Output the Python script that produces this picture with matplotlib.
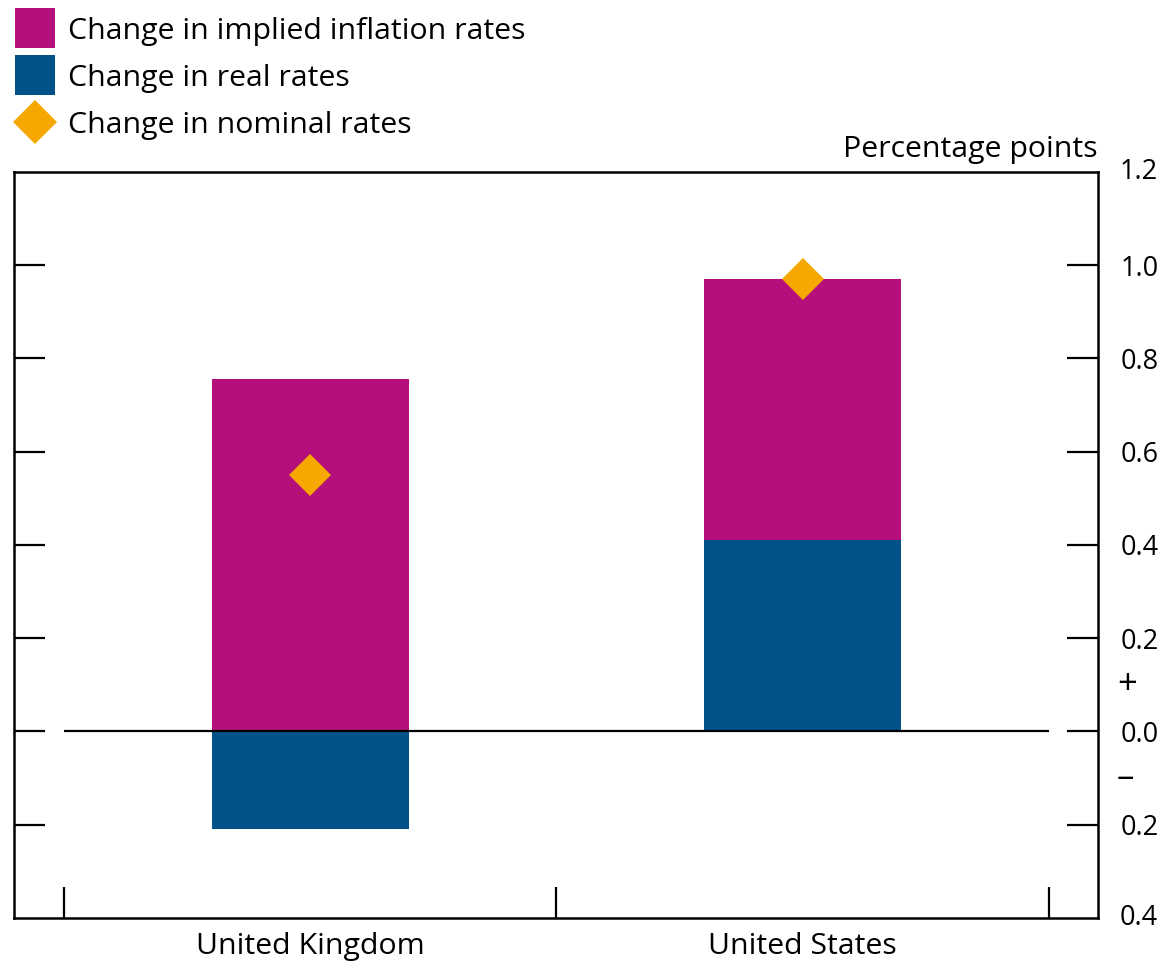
import matplotlib.pyplot as plt
from matplotlib.lines import Line2D
from matplotlib.transforms import blended_transform_factory

plt.rcParams['font.family'] = ['Open Sans', 'DejaVu Sans']

# data (percentage points)
countries = ['United Kingdom', 'United States']
real_rates = [-0.21, 0.41]
inflation_rates = [0.755, 0.56]
nominal_rates = [0.55, 0.97]

yticks = [-0.4, -0.2, 0.0, 0.2, 0.4, 0.6, 0.8, 1.0, 1.2]
ytick_labels = ['0.4', '0.2', '0.0', '0.2', '0.4', '0.6', '0.8', '1.0', '1.2']

magenta = '#B50F7B'
blue = '#005288'
orange = '#F7A800'
fs = 21.8
tfs = 19.5

fig = plt.figure(figsize=(11.67, 9.64), dpi=100)
ax = fig.add_axes([14 / 1167, 1 - 918 / 964, (1098 - 14) / 1167, (918 - 172) / 964])

xpos = [0.5, 1.5]
# inflation stacks on top of real rates where both are positive
bottoms = [max(r, 0) for r in real_rates]
ax.bar(xpos, real_rates, width=0.4, color=blue, zorder=2)
ax.bar(xpos, inflation_rates, width=0.4, bottom=bottoms, color=magenta, zorder=2)
ax.plot(xpos, nominal_rates, linestyle='none', marker='D', markersize=21,
        color=orange, markeredgewidth=0, zorder=4)

ax.hlines(0, 0, 2, color='black', linewidth=1.6, zorder=3)

ax.set_xlim(-0.1015, 2.0995)
ax.set_ylim(-0.4, 1.2)

for s in ax.spines.values():
    s.set_linewidth(1.8)

ax.set_yticks(yticks[1:-1])
ax.set_yticklabels(ytick_labels[1:-1])
ax.tick_params(axis='y', direction='in', length=22, width=1.6, left=True, right=True,
               labelleft=False, labelright=True, labelsize=tfs, pad=16)

tr = blended_transform_factory(ax.transAxes, ax.transData)
lab_x = 1.0 + 22 / 1084
# end labels sit on the spine corners without a tick mark
for v, lab in [(yticks[0], ytick_labels[0]), (yticks[-1], ytick_labels[-1])]:
    ax.text(lab_x, v, lab, transform=tr, fontsize=tfs, ha='left', va='center', clip_on=False)

ax.set_xticks([0, 1, 2])
ax.set_xticklabels([])
ax.tick_params(axis='x', which='major', direction='in', length=22, width=1.6)
ax.set_xticks(xpos, minor=True)
ax.set_xticklabels(countries, minor=True, fontsize=fs)
ax.tick_params(axis='x', which='minor', length=0, pad=10)

ax.text(lab_x - 3 / 1084, 0.1, '+', transform=tr, fontsize=25, ha='left', va='center')
ax.text(lab_x - 3 / 1084, -0.1, '\u2013', transform=tr, fontsize=25, ha='left', va='center')

fig.text(1098 / 1167, 1 - 150 / 964, 'Percentage points', fontsize=fs, ha='right', va='center')

handles = [
    Line2D([], [], linestyle='none', marker='s', markersize=29, color=magenta, markeredgewidth=0),
    Line2D([], [], linestyle='none', marker='s', markersize=29, color=blue, markeredgewidth=0),
    Line2D([], [], linestyle='none', marker='D', markersize=22, color=orange, markeredgewidth=0),
]
labels = ['Change in implied inflation rates', 'Change in real rates', 'Change in nominal rates']
fig.legend(handles, labels, loc='upper left', bbox_to_anchor=(0.0, 1.0), frameon=False,
           fontsize=fs, handlelength=1.2, handletextpad=0.5, labelspacing=0.6,
           borderaxespad=0.15)

fig.savefig('out.png', dpi=100)
